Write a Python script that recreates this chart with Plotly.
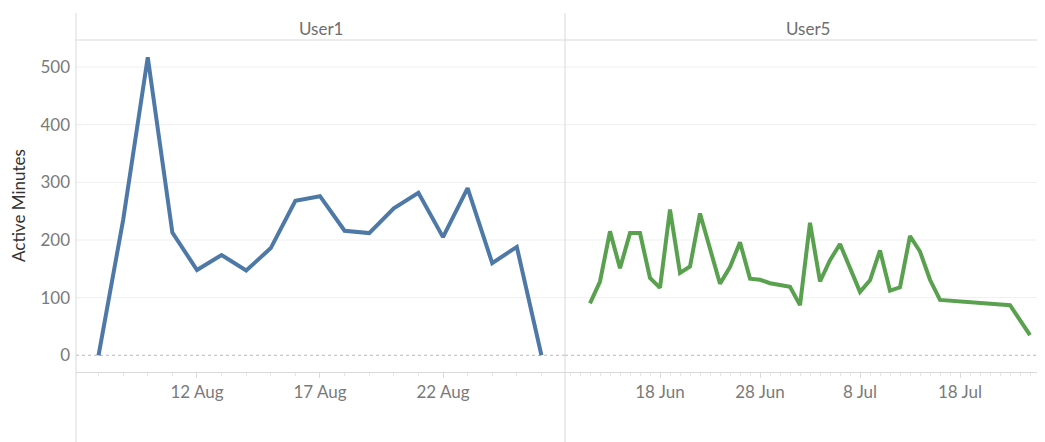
import plotly.graph_objects as go

# The page body has an 8px default margin, so the figure is drawn 8px
# smaller and all reference pixel positions are shifted by that offset.
OFF = 8
W, H = 1045 - OFF, 442 - OFF

# ---------------- data ----------------
user1_dates = [
    "2016-08-08", "2016-08-09", "2016-08-10", "2016-08-11", "2016-08-12",
    "2016-08-13", "2016-08-14", "2016-08-15", "2016-08-16", "2016-08-17",
    "2016-08-18", "2016-08-19", "2016-08-20", "2016-08-21", "2016-08-22",
    "2016-08-23", "2016-08-24", "2016-08-25", "2016-08-26",
]
user1_minutes = [0, 235, 517, 213, 148, 174, 147, 186, 268, 276,
                 216, 212, 255, 282, 205, 290, 160, 188, 0]

user5_dates = [
    "2016-06-11", "2016-06-12", "2016-06-13", "2016-06-14", "2016-06-15",
    "2016-06-16", "2016-06-17", "2016-06-18", "2016-06-19", "2016-06-20",
    "2016-06-21", "2016-06-22", "2016-06-24", "2016-06-25", "2016-06-26",
    "2016-06-27", "2016-06-28", "2016-06-29", "2016-06-30", "2016-07-01",
    "2016-07-02", "2016-07-03", "2016-07-04", "2016-07-05", "2016-07-06",
    "2016-07-08", "2016-07-09", "2016-07-10", "2016-07-11", "2016-07-12",
    "2016-07-13", "2016-07-14", "2016-07-15", "2016-07-16", "2016-07-23",
    "2016-07-25",
]
user5_minutes = [90, 128, 215, 151, 212, 212, 134, 117, 253, 143,
                 154, 246, 124, 153, 196, 133, 131, 125, 122, 119,
                 87, 230, 128, 165, 193, 110, 130, 182, 112, 118,
                 207, 180, 131, 96, 87, 35]

panel_titles = ["User1", "User5"]
user1_ticks = ["2016-08-12", "2016-08-17", "2016-08-22"]
user5_ticks = ["2016-06-18", "2016-06-28", "2016-07-08", "2016-07-18"]
y_ticks = [0, 100, 200, 300, 400, 500]
y_title = "Active Minutes"

# ---------------- layout geometry ----------------
def px_x(p):
    return (p - OFF) / W

def px_y(p):
    return (H - (p - OFF)) / H

X0, XMID, X1 = px_x(76), px_x(565), 1.0
Y_BOT, Y_TOP = px_y(372), px_y(40)

FONT = "Lato"
TICK_COLOR = "#7a7a7a"
LINE_COLOR = "#d9d9d9"
GRID_COLOR = "#efefef"
Y_RANGE = [-29, 547]

fig = go.Figure()
fig.add_trace(go.Scatter(x=user1_dates, y=user1_minutes, mode="lines",
                         line=dict(color="#4e79a7", width=4),
                         xaxis="x", yaxis="y", showlegend=False))
fig.add_trace(go.Scatter(x=user5_dates, y=user5_minutes, mode="lines",
                         line=dict(color="#59a14f", width=4),
                         xaxis="x2", yaxis="y2", showlegend=False))

xcommon = dict(
    type="date", showgrid=False, zeroline=False,
    showline=True, linecolor=LINE_COLOR, linewidth=1,
    ticks="outside", ticklen=5, tickcolor=LINE_COLOR,
    tickformat="%-d %b",
    tickfont=dict(family=FONT, size=17, color=TICK_COLOR),
    minor=dict(ticks="outside", ticklen=3, tickcolor="#e6e6e6",
               dtick=86400000, showgrid=False),
)

fig.update_layout(
    width=W, height=H,
    margin=dict(l=0, r=0, t=0, b=0),
    paper_bgcolor="white", plot_bgcolor="white",
    xaxis=dict(xcommon, domain=[X0, XMID], anchor="y",
               range=["2016-08-07 02:00", "2016-08-26 23:00"],
               tickvals=user1_ticks),
    xaxis2=dict(xcommon, domain=[XMID, X1], anchor="y2",
                range=["2016-06-08 12:00", "2016-07-26 12:00"],
                tickvals=user5_ticks),
    yaxis=dict(domain=[Y_BOT, Y_TOP], anchor="x", range=Y_RANGE,
               tickvals=y_ticks, showgrid=False, zeroline=False,
               showline=False, ticks="",
               tickfont=dict(family=FONT, size=17, color=TICK_COLOR),
               ticklabelstandoff=5),
    yaxis2=dict(domain=[Y_BOT, Y_TOP], anchor="x2", range=Y_RANGE,
                showticklabels=False, showgrid=False, zeroline=False,
                showline=False, ticks=""),
)

shapes = []
# horizontal gridlines (values from y_ticks, drawn through the y axes)
for v in y_ticks[1:]:
    for xr, yr in (("x", "y"), ("x2", "y2")):
        shapes.append(dict(type="line", xref=f"{xr} domain", yref=yr,
                           x0=0, x1=1, y0=v, y1=v, layer="below",
                           line=dict(color=GRID_COLOR, width=1)))
# dotted zero line
for xr, yr in (("x", "y"), ("x2", "y2")):
    shapes.append(dict(type="line", xref=f"{xr} domain", yref=yr,
                       x0=0, x1=1, y0=0, y1=0, layer="below",
                       line=dict(color="#b8b8b8", width=1, dash="dot")))
# panel frame lines
for xv in (X0, XMID):
    shapes.append(dict(type="line", xref="paper", yref="paper",
                       x0=xv, x1=xv, y0=0, y1=px_y(13),
                       line=dict(color=LINE_COLOR, width=1)))
shapes.append(dict(type="line", xref="paper", yref="paper",
                   x0=X0, x1=X1, y0=Y_TOP, y1=Y_TOP,
                   line=dict(color=LINE_COLOR, width=1)))
fig.update_layout(shapes=shapes)

annotations = [
    dict(text=panel_titles[0], xref="paper", yref="paper",
         x=(X0 + XMID) / 2, y=px_y(28), showarrow=False,
         xanchor="center", yanchor="middle",
         font=dict(family=FONT, size=17, color="#6e6e6e")),
    dict(text=panel_titles[1], xref="paper", yref="paper",
         x=px_x(808), y=px_y(28), showarrow=False,
         xanchor="center", yanchor="middle",
         font=dict(family=FONT, size=17, color="#6e6e6e")),
    dict(text=y_title, xref="paper", yref="paper",
         x=px_x(18), y=(Y_BOT + Y_TOP) / 2, showarrow=False,
         textangle=-90, xanchor="center", yanchor="middle",
         font=dict(family=FONT, size=17, color="#333333")),
]
fig.update_layout(annotations=annotations)

fig.write_html("out.html")
